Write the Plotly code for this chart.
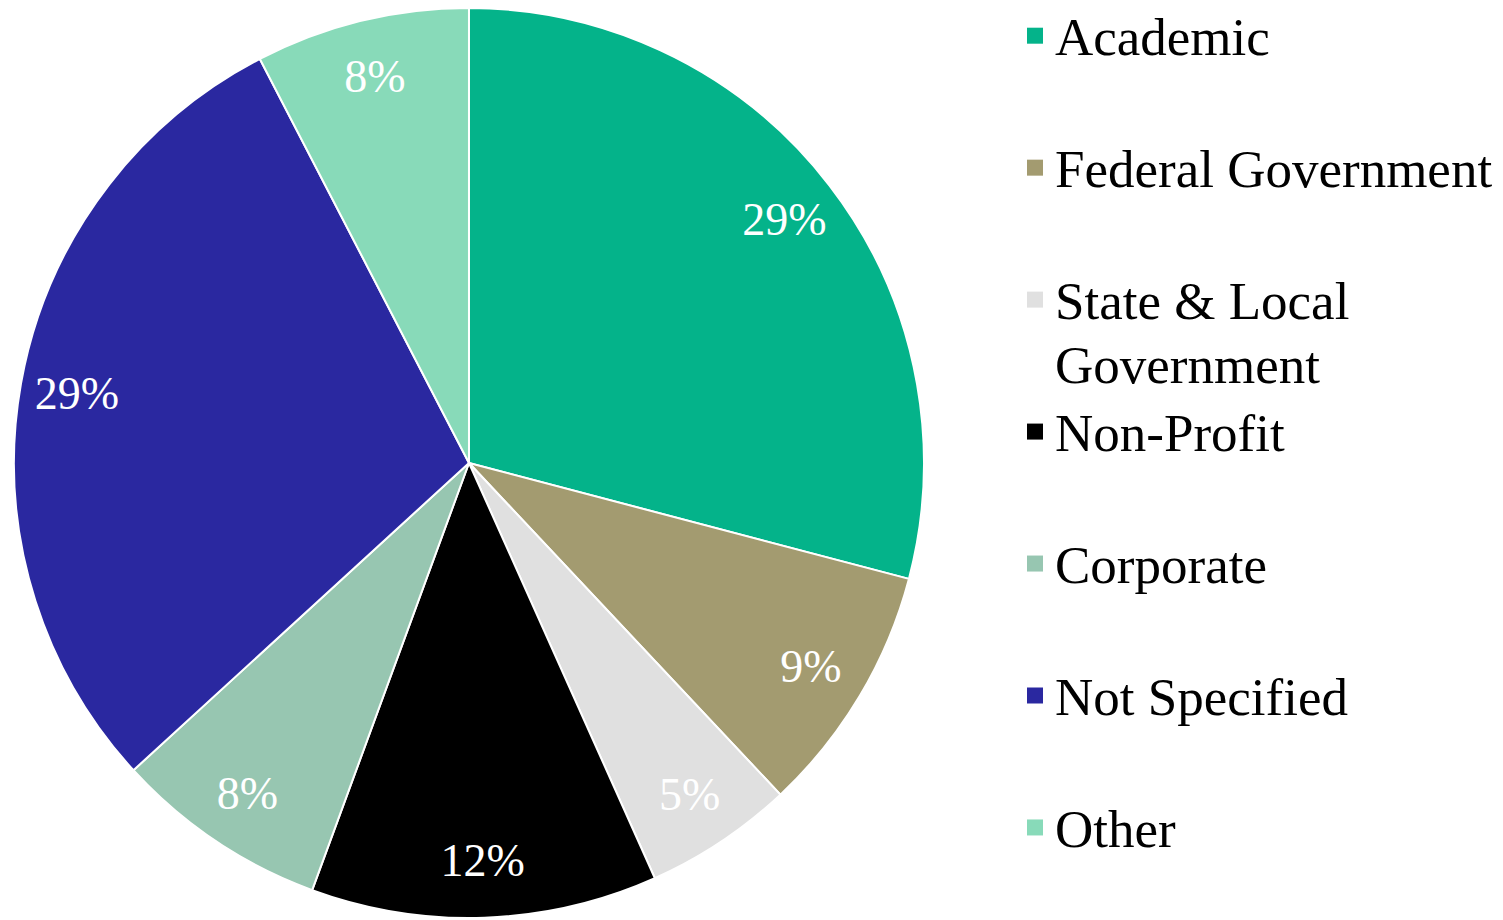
import plotly.graph_objects as go

categories = ["Academic", "Federal Government", "State & Local Government", "Non-Profit",
              "Corporate", "Not Specified", "Other"]
legend_labels = ["Academic", "Federal Government", "State & Local<br>Government", "Non-Profit",
                 "Corporate", "Not Specified", "Other"]
shares = [29.1, 8.9, 5.3, 12.3, 7.6, 29.2, 7.6]
colors = ["#04B38A", "#A39B70", "#E0E0E0", "#000000", "#97C6B1", "#2A28A0", "#88DAB9"]

# pad single-line legend entries to two lines so every entry occupies the same slot
def legend_text(l):
    if "<br>" not in l:
        l = l + "<br>\u00a0"
    return '<span style="font-size:53px">' + l.replace("<br>", '</span><br><span style="font-size:53px">') + "</span>"

domain = dict(x=[0.0040, 0.6094], y=[0.0109, 1.0])

fig = go.Figure()

# filled slices
fig.add_trace(go.Pie(
    labels=categories,
    values=shares,
    marker=dict(colors=colors, line=dict(color="white", width=2)),
    sort=False,
    direction="clockwise",
    rotation=0,
    textinfo="none",
    domain=domain,
    showlegend=False,
    hoverinfo="label+percent",
))

# percentage labels placed out toward the rim (transparent ring on top)
fig.add_trace(go.Pie(
    labels=categories,
    values=shares,
    hole=0.75,
    marker=dict(colors=["rgba(0,0,0,0)"] * len(categories), line=dict(width=0)),
    sort=False,
    direction="clockwise",
    rotation=0,
    texttemplate="%{percent:.0%}",
    textposition="inside",
    insidetextorientation="horizontal",
    insidetextfont=dict(family="Liberation Serif", size=46, color="white"),
    domain=domain,
    showlegend=False,
    hoverinfo="skip",
))

# legend entries
for cat, lab, col in zip(categories, legend_labels, colors):
    fig.add_trace(go.Scatter(
        x=[None], y=[None], mode="markers",
        marker=dict(symbol="square", size=25, color=col),
        name=legend_text(lab),
        hoverinfo="skip",
    ))

fig.update_layout(
    width=1503, height=920,
    margin=dict(l=0, r=0, t=0, b=0, autoexpand=False),
    paper_bgcolor="white",
    plot_bgcolor="rgba(0,0,0,0)",
    font=dict(family="Liberation Serif", color="black"),
    showlegend=True,
    xaxis=dict(visible=False),
    yaxis=dict(visible=False),
    legend=dict(
        x=0.670, y=1.012, xanchor="left", yanchor="top",
        font=dict(family="Liberation Serif", size=49.6, color="black"),
        valign="top",
        maxheight=2000,
        bgcolor="rgba(0,0,0,0)",
    ),
)

fig.write_html("out.html")
